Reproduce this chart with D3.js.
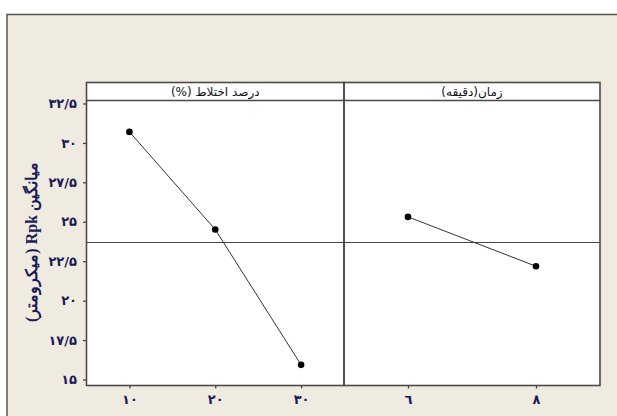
<!DOCTYPE html>
<html><head><meta charset="utf-8">
<script src="https://cdn.jsdelivr.net/npm/d3@7"></script>
<style>html,body{margin:0;padding:0;background:#fff;}svg{display:block;}</style>
</head><body>
<script>
// ---- data ----
const panelTitles = ["درصد اختلاط (%)", "زمان(دقیقه)"];
const mixLevels = ["۱۰", "۲۰", "۳۰"];
const mixMeans = [30.70, 24.51, 15.93];
const timeLevels = ["٦", "٨"];
const timeMeans = [25.31, 22.18];
const grandMean = 23.75;
const yTicks = [15, 17.5, 20, 22.5, 25, 27.5, 30, 32.5];
const yTickLabels = ["۱۵", "۱۷/۵", "۲۰", "۲۲/۵", "۲۵", "۲۷/۵", "۳۰", "۳۲/۵"];
const yLabel = "میانگین Rpk (میکرومتر)";

(function () {
const W = 617, H = 416;
const svg = d3.select("body").append("svg").attr("width", W).attr("height", H);

// outer frame
svg.append("rect").attr("x", 7).attr("y", 14.5).attr("width", W + 10).attr("height", H + 10)
  .attr("fill", "#EFEBE0").attr("stroke", "#555").attr("stroke-width", 1.5);

const pTop = 82.5, headBot = 100.5, bot = 385.5;
const panels = [
  {x0: 86.5, x1: 344, title: panelTitles[0], levels: mixLevels, vals: mixMeans},
  {x0: 344, x1: 600, title: panelTitles[1], levels: timeLevels, vals: timeMeans}
];

const y = d3.scaleLinear().domain([15, 32.5]).range([379.5, 103.5]);

const textColor = "#1b1b55";

panels.forEach(p => {
  svg.append("rect").attr("x", p.x0).attr("y", pTop).attr("width", p.x1 - p.x0).attr("height", headBot - pTop)
    .attr("fill", "#fff").attr("stroke", "none");
  svg.append("text").attr("x", (p.x0 + p.x1) / 2).attr("y", (pTop + headBot) / 2 + 4.5)
    .attr("text-anchor", "middle").attr("direction", "rtl").attr("font-family", "DejaVu Sans").attr("font-size", 12)
    .attr("fill", "#111").text(p.title);
  svg.append("rect").attr("x", p.x0).attr("y", headBot).attr("width", p.x1 - p.x0).attr("height", bot - headBot)
    .attr("fill", "#fff");
});

// grand mean line
svg.append("line").attr("x1", 86.5).attr("x2", 600).attr("y1", Math.round(y(grandMean)) + 0.5).attr("y2", Math.round(y(grandMean)) + 0.5)
  .attr("stroke", "#444").attr("stroke-width", 1);

panels.forEach(p => {
  const x = d3.scalePoint().domain(p.levels).range([p.x0, p.x1]).padding(0.5);
  const data = p.levels.map((l, i) => ({l, v: p.vals[i]}));
  svg.append("path").datum(data)
    .attr("d", d3.line().x(d => x(d.l)).y(d => y(d.v)))
    .attr("fill", "none").attr("stroke", "#333").attr("stroke-width", 1);
  svg.selectAll(null).data(data).enter().append("circle")
    .attr("cx", d => x(d.l)).attr("cy", d => y(d.v)).attr("r", 3.3).attr("fill", "#000");
  const ax = svg.append("g").attr("transform", `translate(0,${bot})`)
    .call(d3.axisBottom(x).tickSize(3).tickPadding(6));
  ax.select(".domain").remove();
  ax.selectAll("line").attr("stroke", "#444").attr("stroke-width", 1.3);
  ax.selectAll("text").attr("font-family", "DejaVu Sans").attr("font-weight", "bold")
    .attr("font-size", 13).attr("fill", textColor);
});

// frames
panels.forEach(p => {
  svg.append("rect").attr("x", p.x0).attr("y", pTop).attr("width", p.x1 - p.x0).attr("height", bot - pTop)
    .attr("fill", "none").attr("stroke", "#4a4a4a").attr("stroke-width", 1.6);
  svg.append("line").attr("x1", p.x0).attr("x2", p.x1).attr("y1", headBot).attr("y2", headBot)
    .attr("stroke", "#4a4a4a").attr("stroke-width", 1.6);
});

// y axis
const ay = svg.append("g").attr("transform", "translate(86,0)")
  .call(d3.axisLeft(y).tickValues(yTicks).tickSize(3).tickPadding(6)
    .tickFormat((d, i) => yTickLabels[i]));
ay.select(".domain").remove();
ay.selectAll("line").attr("stroke", "#444").attr("stroke-width", 1.3);
ay.selectAll("text").attr("font-family", "DejaVu Sans").attr("font-weight", "bold")
  .attr("font-size", 13).attr("fill", textColor);

// y label
svg.append("text").attr("transform", "translate(37,242) rotate(-90)")
  .attr("text-anchor", "middle").attr("font-family", "Liberation Serif").attr("font-weight", "bold")
  .attr("font-size", 16).attr("fill", textColor).attr("direction", "rtl").text(yLabel);
})();
</script>
</body></html>
